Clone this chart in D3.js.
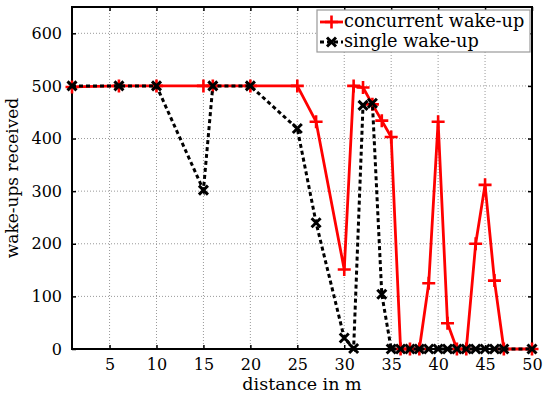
<!DOCTYPE html>
<html>
<head>
<meta charset="utf-8">
<script src="https://cdn.jsdelivr.net/npm/d3@7"></script>
<style>
  body { margin: 0; background: #fff; }
  text { font-family: "DejaVu Serif", serif; fill: #000; }
</style>
</head>
<body>
<svg id="canvas"></svg>
<script>
// distances (m) and wake-ups received
const concurrentX = [1, 6, 10, 15, 16, 20, 25, 27, 30, 31, 32, 33, 34, 35, 36, 37, 38, 39, 40, 41, 42, 43, 44, 45, 46, 47, 50];
const concurrentY = [498, 500, 500, 500, 500, 500, 500, 432, 151, 500, 497, 465, 434, 403, 0, 0, 0, 125, 432, 49, 0, 0, 200, 312, 130, 0, 0];
const singleX = [1, 6, 10, 15, 16, 20, 25, 27, 30, 31, 32, 33, 34, 35, 36, 37, 38, 39, 40, 41, 42, 43, 44, 45, 46, 47, 50];
const singleY = [500, 500, 500, 302, 500, 500, 419, 240, 21, 1, 463, 467, 104, 0, 0, 0, 0, 0, 0, 0, 0, 0, 0, 0, 0, 0, 0];
const xTicks = [5, 10, 15, 20, 25, 30, 35, 40, 45, 50];
const yTicks = [0, 100, 200, 300, 400, 500, 600];
const seriesNames = ["concurrent wake-up", "single wake-up"];

const width = 550, height = 399;
const margin = { top: 7, right: 18, bottom: 50, left: 72 };
const w = width - margin.left - margin.right;
const h = height - margin.top - margin.bottom;

const svg = d3.select("#canvas").attr("width", width).attr("height", height);
const g = svg.append("g").attr("transform", `translate(${margin.left},${margin.top})`);

const x = d3.scaleLinear().domain([1, 50]).range([0, w]);
const y = d3.scaleLinear().domain([0, 650]).range([h, 0]);

// grid
g.append("g").selectAll("line").data(xTicks.filter(d => d < 50)).join("line")
  .attr("x1", d => x(d)).attr("x2", d => x(d)).attr("y1", 0).attr("y2", h)
  .attr("stroke", "#999").attr("stroke-width", 1).attr("stroke-dasharray", "1,2");
g.append("g").selectAll("line").data(yTicks.filter(d => d > 0)).join("line")
  .attr("x1", 0).attr("x2", w).attr("y1", d => y(d)).attr("y2", d => y(d))
  .attr("stroke", "#999").attr("stroke-width", 1).attr("stroke-dasharray", "1,2");

// axes with inward ticks on all four sides
const styleAxis = sel => {
  sel.select(".domain").remove();
  sel.selectAll("line").attr("stroke", "#000").attr("stroke-width", 1.5);
  sel.selectAll("text").style("font-size", "16px").style("font-family", "DejaVu Serif");
};
g.append("g").attr("transform", `translate(0,${h})`)
  .call(d3.axisBottom(x).tickValues(xTicks).tickSizeInner(-4).tickPadding(10))
  .call(styleAxis);
g.append("g")
  .call(d3.axisTop(x).tickValues(xTicks).tickSizeInner(-4).tickFormat(""))
  .call(styleAxis);
g.append("g")
  .call(d3.axisLeft(y).tickValues(yTicks).tickSizeInner(-4).tickPadding(10))
  .call(styleAxis);
g.append("g").attr("transform", `translate(${w},0)`)
  .call(d3.axisRight(y).tickValues(yTicks).tickSizeInner(-4).tickFormat(""))
  .call(styleAxis);

g.append("rect").attr("width", w).attr("height", h)
  .attr("fill", "none").attr("stroke", "#000").attr("stroke-width", 2);

// axis titles
g.append("text").attr("x", w / 2).attr("y", h + 41)
  .attr("text-anchor", "middle").style("font-size", "17.5px").text("distance in m");
g.append("text").attr("transform", `translate(${-54},${y(325)}) rotate(-90)`)
  .attr("text-anchor", "middle").style("font-size", "17px").text("wake-ups received");

const concurrent = concurrentX.map((d, i) => ({ x: d, y: concurrentY[i] }));
const single = singleX.map((d, i) => ({ x: d, y: singleY[i] }));

const line = d3.line().x(d => x(d.x)).y(d => y(d.y));

function plusMark(sel) {
  sel.append("path").attr("d", "M-6.5,0H6.5M0,-6.5V6.5")
    .attr("stroke", "#ff0000").attr("stroke-width", 2.6).attr("fill", "none");
}
function crossMark(sel) {
  sel.append("path").attr("d", "M-4.5,-4.5L4.5,4.5M-4.5,4.5L4.5,-4.5")
    .attr("stroke", "#000").attr("stroke-width", 3).attr("fill", "none");
}

const plot = g.append("g");
plot.append("path").datum(concurrent).attr("d", line)
  .attr("fill", "none").attr("stroke", "#ff0000").attr("stroke-width", 2.8)
  .attr("stroke-linejoin", "round");
plot.append("g").selectAll("g").data(concurrent).join("g")
  .attr("transform", d => `translate(${x(d.x)},${y(d.y)})`)
  .each(function () { plusMark(d3.select(this)); });

plot.append("path").datum(single).attr("d", line)
  .attr("fill", "none").attr("stroke", "#000").attr("stroke-width", 3)
  .attr("stroke-dasharray", "4,3");
plot.append("g").selectAll("g").data(single).join("g")
  .attr("transform", d => `translate(${x(d.x)},${y(d.y)})`)
  .each(function () { crossMark(d3.select(this)); });

// legend
const lg = svg.append("g").attr("transform", "translate(317,10)");
lg.append("rect").attr("width", 213).attr("height", 42)
  .attr("fill", "#fff").attr("stroke", "#999").attr("stroke-width", 1.2);
const rows = lg.selectAll("g.row").data(seriesNames).join("g")
  .attr("class", "row").attr("transform", (d, i) => `translate(0,${12 + i * 20})`);
rows.each(function (d, i) {
  const r = d3.select(this);
  if (i === 0) {
    r.append("line").attr("x1", 3).attr("x2", 26).attr("stroke", "#ff0000").attr("stroke-width", 2.8);
    r.append("g").attr("transform", "translate(14.5,0)").call(plusMark);
  } else {
    r.append("line").attr("x1", 3).attr("x2", 26).attr("stroke", "#000").attr("stroke-width", 3)
      .attr("stroke-dasharray", "4,3");
    r.append("g").attr("transform", "translate(14.5,0)").call(crossMark);
  }
  r.append("text").attr("x", 27).attr("y", 5).style("font-size", "17.7px").text(d);
});
</script>
</body>
</html>
